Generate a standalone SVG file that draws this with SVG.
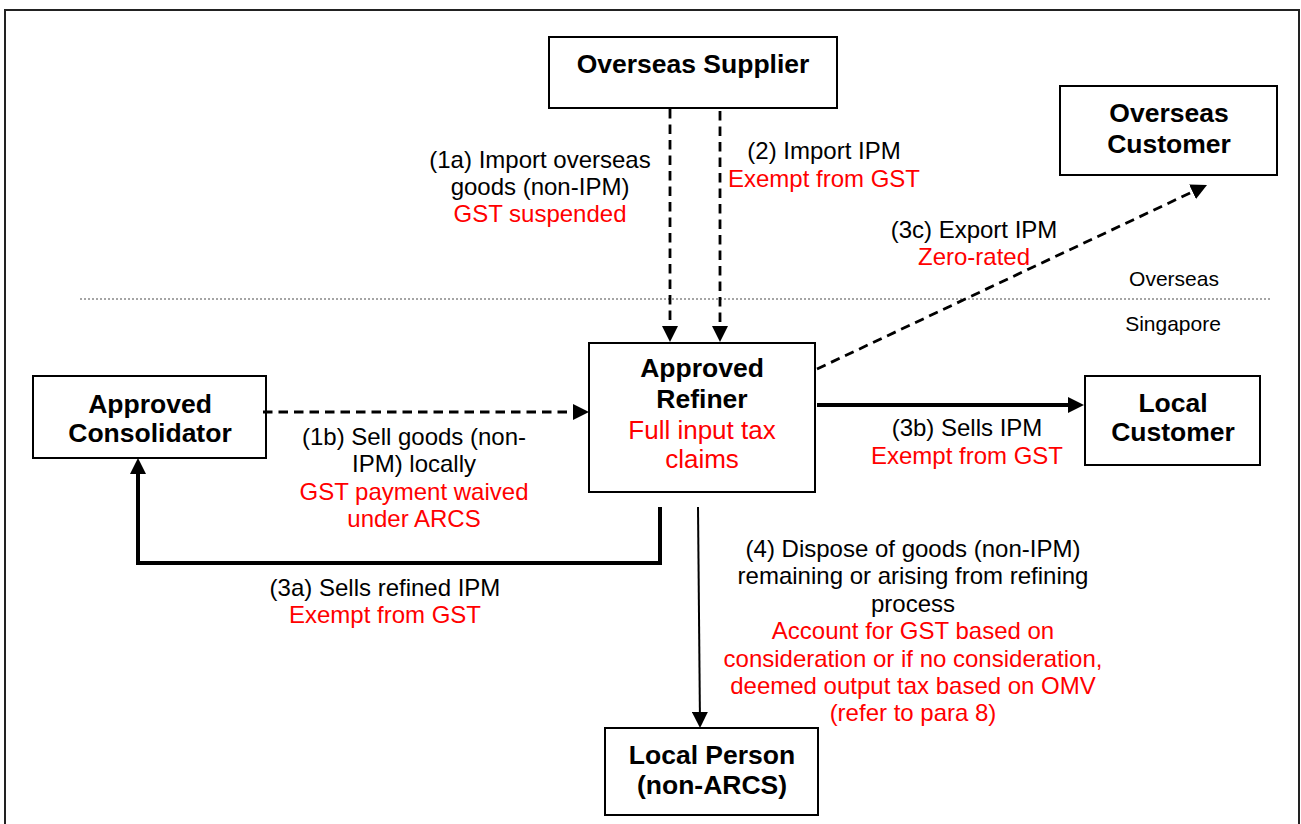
<svg xmlns="http://www.w3.org/2000/svg" width="1301" height="824" viewBox="0 0 1301 824">
<defs>
<style>
text{font-family:"Liberation Sans",Arial,sans-serif;text-anchor:middle;fill:#000}
.node{font-weight:bold;font-size:26.5px}
.lbl{font-size:24px}
.red{fill:#ff0000}
.box{fill:#fff;stroke:#000;stroke-width:2}
.dash{fill:none;stroke:#000;stroke-width:2.8;stroke-dasharray:9.5 6}
.thick{fill:none;stroke:#000;stroke-width:4}
.thin{fill:none;stroke:#000;stroke-width:2}
.region{font-size:21px}
</style>
<marker id="ah" markerUnits="userSpaceOnUse" viewBox="0 0 16 16" markerWidth="16" markerHeight="16" refX="12" refY="8" orient="auto">
<path d="M0,0 L16,8 L0,16 z" fill="#000"/>
</marker>
</defs>
<rect width="1301" height="824" fill="#fff"/>
<rect x="5" y="10" width="1294" height="830" fill="none" stroke="#222" stroke-width="2"/>
<line x1="80" y1="299" x2="1270" y2="299" stroke="#888" stroke-width="1.5" stroke-dasharray="2 2"/>
<text class="region" x="1174" y="286">Overseas</text>
<text class="region" x="1173" y="331">Singapore</text>

<g id="overseas-supplier">
<rect class="box" x="549" y="37" width="288" height="71"/>
<text class="node" x="693" y="73">Overseas Supplier</text>
</g>
<g id="overseas-customer">
<rect class="box" x="1060" y="86" width="217" height="89"/>
<text class="node" x="1169" y="122">Overseas</text>
<text class="node" x="1169" y="153">Customer</text>
</g>
<g id="approved-refiner">
<rect class="box" x="589" y="343" width="226" height="149"/>
<text class="node" x="702" y="377">Approved</text>
<text class="node" x="702" y="408">Refiner</text>
<text class="red" x="702" y="439" font-size="26">Full input tax</text>
<text class="red" x="702" y="468" font-size="26">claims</text>
</g>
<g id="approved-consolidator">
<rect class="box" x="33" y="376" width="233" height="82"/>
<text class="node" x="150" y="413">Approved</text>
<text class="node" x="150" y="442">Consolidator</text>
</g>
<g id="local-customer">
<rect class="box" x="1085" y="376" width="175" height="89"/>
<text class="node" x="1173" y="412">Local</text>
<text class="node" x="1173" y="441">Customer</text>
</g>
<g id="local-person">
<rect class="box" x="605" y="728" width="213" height="87"/>
<text class="node" x="712" y="764">Local Person</text>
<text class="node" x="712" y="794">(non-ARCS)</text>
</g>

<g id="connectors">
<line class="dash" x1="670" y1="109" x2="670" y2="338" marker-end="url(#ah)"/>
<line class="dash" x1="720" y1="111" x2="720" y2="338" marker-end="url(#ah)"/>
<line class="dash" x1="263" y1="412" x2="585" y2="412" marker-end="url(#ah)"/>
<path class="thick" d="M660,507 V563 H138 V462" marker-end="url(#ah)"/>
<line class="thick" x1="817" y1="405" x2="1080" y2="405" marker-end="url(#ah)"/>
<line class="dash" x1="817" y1="369" x2="1203.4" y2="186.7" marker-end="url(#ah)"/>
<line class="thin" x1="698" y1="507" x2="700" y2="724" marker-end="url(#ah)"/>
</g>

<g id="labels">
<text class="lbl" x="540" y="168">(1a) Import overseas</text>
<text class="lbl" x="540" y="195">goods (non-IPM)</text>
<text class="lbl red" x="540" y="222">GST suspended</text>

<text class="lbl" x="824" y="159">(2) Import IPM</text>
<text class="lbl red" x="824" y="187">Exempt from GST</text>

<text class="lbl" x="974" y="238">(3c) Export IPM</text>
<text class="lbl red" x="974" y="265">Zero-rated</text>

<text class="lbl" x="414" y="445">(1b) Sell goods (non-</text>
<text class="lbl" x="414" y="472">IPM) locally</text>
<text class="lbl red" x="414" y="500">GST payment waived</text>
<text class="lbl red" x="414" y="527">under ARCS</text>

<text class="lbl" x="967" y="436">(3b) Sells IPM</text>
<text class="lbl red" x="967" y="464">Exempt from GST</text>

<text class="lbl" x="385" y="596">(3a) Sells refined IPM</text>
<text class="lbl red" x="385" y="623">Exempt from GST</text>

<text class="lbl" x="913" y="557">(4) Dispose of goods (non-IPM)</text>
<text class="lbl" x="913" y="584">remaining or arising from refining</text>
<text class="lbl" x="913" y="612">process</text>
<text class="lbl red" x="913" y="639">Account for GST based on</text>
<text class="lbl red" x="913" y="667">consideration or if no consideration,</text>
<text class="lbl red" x="913" y="694">deemed output tax based on OMV</text>
<text class="lbl red" x="913" y="721">(refer to para 8)</text>
</g>
</svg>
